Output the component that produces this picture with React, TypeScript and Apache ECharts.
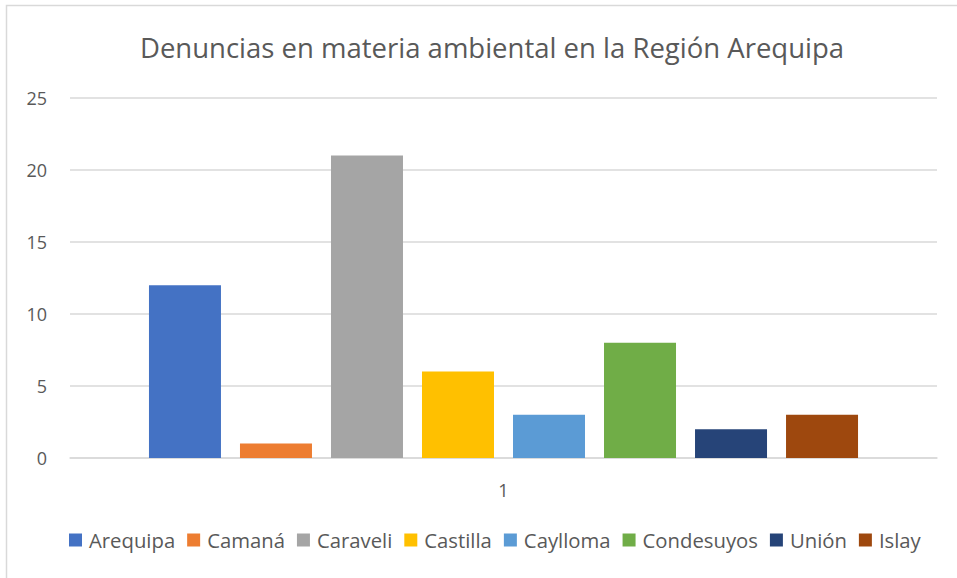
import React, { useEffect, useRef } from "react";
import * as echarts from "echarts";

const categories = ["1"];
const seriesNames = ["Arequipa", "Camaná", "Caraveli", "Castilla", "Caylloma", "Condesuyos", "Unión", "Islay"];
const seriesValues = [12, 1, 21, 6, 3, 8, 2, 3];
const seriesColors = ["#4472C4", "#ED7D31", "#A5A5A5", "#FFC000", "#5B9BD5", "#70AD47", "#264478", "#9E480E"];
const yTicks = [0, 5, 10, 15, 20, 25];

const FONT = "'Open Sans', Lato, sans-serif";

export default function App() {
  const ref = useRef<HTMLDivElement>(null);
  useEffect(() => {
    if (!ref.current) return;
    const chart = echarts.init(ref.current, undefined, { renderer: "svg" });
    chart.setOption({
      animation: false,
      backgroundColor: "#ffffff",
      title: {
        text: "Denuncias en materia ambiental en la Región Arequipa",
        left: 487,
        textAlign: "center",
        top: 28,
        textStyle: { fontFamily: FONT, fontSize: 27.5, fontWeight: "normal", color: "#595959" },
      },
      graphic: [
        {
          type: "rect",
          shape: { x: 6.5, y: 5.5, width: 1000, height: 1000 },
          style: { fill: "none", stroke: "#d9d9d9", lineWidth: 1.5 },
          silent: true,
        },
      ],
      legend: {
        bottom: 23,
        left: 64,
        itemWidth: 13,
        itemHeight: 13,
        itemGap: 12,
        icon: "rect",
        textStyle: { fontFamily: FONT, fontSize: 20.3, color: "#595959", padding: [0, 0, 0, 2] },
        data: seriesNames,
      },
      grid: { left: 70, right: 20, top: 98, bottom: 120, containLabel: false },
      xAxis: {
        type: "category",
        data: categories,
        axisLine: { lineStyle: { color: "#d9d9d9", width: 1.5 } },
        axisTick: { show: false },
        axisLabel: { fontFamily: FONT, fontSize: 18, color: "#595959", margin: 23 },
      },
      yAxis: {
        type: "value",
        min: yTicks[0],
        max: yTicks[yTicks.length - 1],
        interval: 5,
        axisLine: { show: false },
        axisTick: { show: false },
        splitLine: { lineStyle: { color: "#d9d9d9", width: 1.5 } },
        axisLabel: { fontFamily: FONT, fontSize: 18, color: "#595959", margin: 23 },
      },
      series: seriesNames.map((name, i) => ({
        name,
        type: "bar",
        data: [seriesValues[i]],
        barWidth: 72,
        barGap: "26.4%",
        itemStyle: { color: seriesColors[i] },
      })),
    });
    return () => chart.dispose();
  }, []);
  return (
    <div
      ref={ref}
      style={{ position: "fixed", left: 0, top: 0, width: 957, height: 578, background: "#fff" }}
    />
  );
}
